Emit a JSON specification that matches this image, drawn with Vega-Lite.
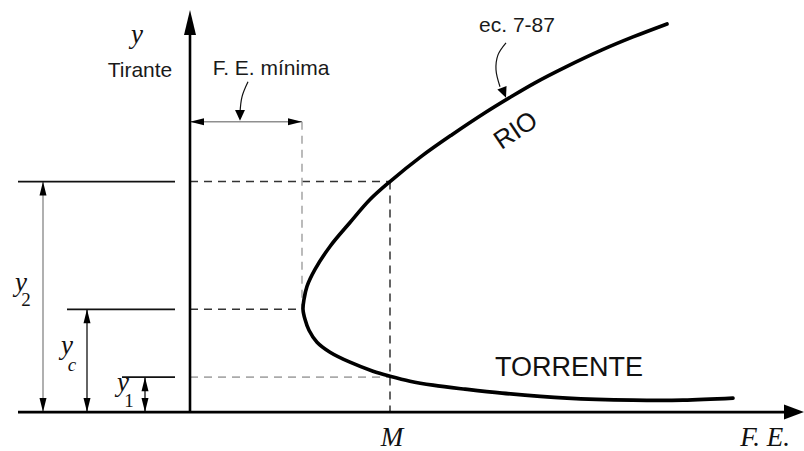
{
  "$schema": "https://vega.github.io/schema/vega-lite/v6.json",
  "width": 804,
  "height": 451,
  "padding": 0,
  "autosize": {"type": "fit", "contains": "padding"},
  "background": "white",
  "config": {"view": {"stroke": null}},
  "datasets": {
    "curva": [
      {"x": 477, "y": 389, "i": 1}, {"x": 443, "y": 376, "i": 2}, {"x": 412, "y": 363, "i": 3},
      {"x": 376, "y": 346, "i": 4}, {"x": 345, "y": 330, "i": 5}, {"x": 321, "y": 316, "i": 6},
      {"x": 295, "y": 300, "i": 7}, {"x": 262, "y": 278, "i": 8}, {"x": 231, "y": 256, "i": 9},
      {"x": 200, "y": 231, "i": 10}, {"x": 180, "y": 213, "i": 11}, {"x": 160, "y": 190, "i": 12},
      {"x": 140, "y": 166, "i": 13}, {"x": 125, "y": 143, "i": 14}, {"x": 117, "y": 126, "i": 15},
      {"x": 114, "y": 113, "i": 16}, {"x": 113, "y": 103, "i": 17}, {"x": 115, "y": 93, "i": 18},
      {"x": 119, "y": 82, "i": 19}, {"x": 127, "y": 70, "i": 20}, {"x": 140, "y": 60, "i": 21},
      {"x": 160, "y": 50, "i": 22}, {"x": 183, "y": 41, "i": 23}, {"x": 200, "y": 36, "i": 24},
      {"x": 220, "y": 31, "i": 25}, {"x": 243, "y": 27, "i": 26}, {"x": 275, "y": 23, "i": 27},
      {"x": 312, "y": 19, "i": 28}, {"x": 377, "y": 14, "i": 29}, {"x": 443, "y": 12, "i": 30},
      {"x": 493, "y": 12, "i": 31}, {"x": 543, "y": 14, "i": 32}
    ],
    "trazos": [
      {"x": 0, "y": 0, "x2": 0, "y2": 392, "tipo": "eje"},
      {"x": -172, "y": 0, "x2": 596, "y2": 0, "tipo": "eje"},
      {"x": -172, "y": 231, "x2": -15, "y2": 231, "tipo": "nivel"},
      {"x": -123, "y": 103, "x2": -15, "y2": 103, "tipo": "nivel"},
      {"x": -68, "y": 35, "x2": -15, "y2": 35, "tipo": "nivel"},
      {"x": -103, "y": 0, "x2": -103, "y2": 103, "tipo": "cota"},
      {"x": -45, "y": 0, "x2": -45, "y2": 35, "tipo": "cota"},
      {"x": -147, "y": 0, "x2": -147, "y2": 231, "tipo": "cota_gris"},
      {"x": 0, "y": 291, "x2": 112, "y2": 291, "tipo": "cota_gris"},
      {"x": 0, "y": 231, "x2": 200, "y2": 231, "tipo": "proyeccion"},
      {"x": 200, "y": 231, "x2": 200, "y2": 0, "tipo": "proyeccion"},
      {"x": 0, "y": 103, "x2": 112, "y2": 103, "tipo": "proyeccion"},
      {"x": 0, "y": 35, "x2": 200, "y2": 35, "tipo": "proyeccion_gris"},
      {"x": 112, "y": 291, "x2": 112, "y2": 103, "tipo": "proyeccion_gris"}
    ],
    "flechas": [
      {"x": 0, "y": 403, "dir": "arriba", "tipo": "eje"},
      {"x": 614, "y": 0, "dir": "derecha", "tipo": "eje"},
      {"x": -147, "y": 231, "dir": "arriba", "tipo": "cota"},
      {"x": -147, "y": 0, "dir": "abajo", "tipo": "cota"},
      {"x": -103, "y": 103, "dir": "arriba", "tipo": "cota"},
      {"x": -103, "y": 0, "dir": "abajo", "tipo": "cota"},
      {"x": -45, "y": 35, "dir": "arriba", "tipo": "cota"},
      {"x": -45, "y": 0, "dir": "abajo", "tipo": "cota"},
      {"x": 0, "y": 291, "dir": "izquierda", "tipo": "cota"},
      {"x": 112, "y": 291, "dir": "derecha", "tipo": "cota"},
      {"x": 50, "y": 292, "dir": "abajo", "tipo": "llamada"},
      {"x": 316, "y": 315, "dir": "abajo_der", "tipo": "llamada"}
    ],
    "llamadas": [
      {"x": 58, "y": 331, "id": "minima", "i": 1},
      {"x": 52, "y": 316, "id": "minima", "i": 2},
      {"x": 50, "y": 300, "id": "minima", "i": 3},
      {"x": 316, "y": 370, "id": "ecuacion", "i": 1},
      {"x": 308, "y": 358, "id": "ecuacion", "i": 2},
      {"x": 306, "y": 343, "id": "ecuacion", "i": 3},
      {"x": 310, "y": 326, "id": "ecuacion", "i": 4}
    ],
    "rotulos": [
      {"x": -50, "y": 336, "texto": "Tirante", "tipo": "etiqueta"},
      {"x": 81, "y": 338, "texto": "F. E. mínima", "tipo": "etiqueta"},
      {"x": 327, "y": 381, "texto": "ec. 7-87", "tipo": "etiqueta"},
      {"x": 379, "y": 36, "texto": "TORRENTE", "tipo": "regimen"},
      {"x": 326, "y": 282, "texto": "RIO", "tipo": "regimen_inclinado"},
      {"x": -53, "y": 370, "texto": "y", "tipo": "variable"},
      {"x": 202, "y": -34, "texto": "M", "tipo": "variable"},
      {"x": 575, "y": -34, "texto": "F. E.", "tipo": "variable"},
      {"x": -169, "y": 121, "texto": "y", "tipo": "variable"},
      {"x": -123, "y": 58, "texto": "y", "tipo": "variable"},
      {"x": -67, "y": 21, "texto": "y", "tipo": "variable"},
      {"x": -164, "y": 106, "texto": "2", "tipo": "subindice"},
      {"x": -61, "y": 5, "texto": "1", "tipo": "subindice"},
      {"x": -118, "y": 41, "texto": "c", "tipo": "subindice_var"}
    ]
  },
  "encoding": {
    "x": {"field": "x", "type": "quantitative", "scale": {"domain": [-190, 614], "nice": false, "zero": false}, "axis": null},
    "y": {"field": "y", "type": "quantitative", "scale": {"domain": [-38, 413], "nice": false, "zero": false}, "axis": null}
  },
  "layer": [
    {
      "data": {"name": "trazos"},
      "transform": [{"filter": "datum.tipo == 'proyeccion'"}],
      "mark": {"type": "rule", "color": "#333333", "strokeWidth": 1.5, "strokeDash": [8, 6]},
      "encoding": {"x2": {"field": "x2"}, "y2": {"field": "y2"}}
    },
    {
      "data": {"name": "trazos"},
      "transform": [{"filter": "datum.tipo == 'proyeccion_gris'"}],
      "mark": {"type": "rule", "color": "#aaaaaa", "strokeWidth": 1.6, "strokeDash": [8, 6]},
      "encoding": {"x2": {"field": "x2"}, "y2": {"field": "y2"}}
    },
    {
      "data": {"name": "trazos"},
      "transform": [{"filter": "datum.tipo == 'cota_gris'"}],
      "mark": {"type": "rule", "color": "#8f8f8f", "strokeWidth": 1.4},
      "encoding": {"x2": {"field": "x2"}, "y2": {"field": "y2"}}
    },
    {
      "data": {"name": "trazos"},
      "transform": [{"filter": "datum.tipo == 'cota'"}],
      "mark": {"type": "rule", "color": "#111111", "strokeWidth": 1.3},
      "encoding": {"x2": {"field": "x2"}, "y2": {"field": "y2"}}
    },
    {
      "data": {"name": "trazos"},
      "transform": [{"filter": "datum.tipo == 'nivel'"}],
      "mark": {"type": "rule", "color": "#111111", "strokeWidth": 1.7},
      "encoding": {"x2": {"field": "x2"}, "y2": {"field": "y2"}}
    },
    {
      "data": {"name": "trazos"},
      "transform": [{"filter": "datum.tipo == 'eje'"}],
      "mark": {"type": "rule", "color": "#000000", "strokeWidth": 2.6},
      "encoding": {"x2": {"field": "x2"}, "y2": {"field": "y2"}}
    },
    {
      "data": {"name": "curva"},
      "mark": {"type": "line", "color": "#000000", "strokeWidth": 3.6, "interpolate": "catmull-rom", "strokeCap": "round"},
      "encoding": {"order": {"field": "i", "type": "quantitative"}}
    },
    {
      "data": {"name": "llamadas"},
      "mark": {"type": "line", "color": "#111111", "strokeWidth": 1.2, "interpolate": "catmull-rom"},
      "encoding": {"detail": {"field": "id"}, "order": {"field": "i", "type": "quantitative"}}
    },
    {
      "data": {"name": "flechas"},
      "transform": [{"filter": "datum.tipo == 'eje' && datum.dir == 'arriba'"}],
      "mark": {"type": "point", "filled": true, "color": "#000000", "opacity": 1, "shape": "M0,0L0.48,2L-0.48,2Z", "size": 625}
    },
    {
      "data": {"name": "flechas"},
      "transform": [{"filter": "datum.tipo == 'eje' && datum.dir == 'derecha'"}],
      "mark": {"type": "point", "filled": true, "color": "#000000", "opacity": 1, "shape": "M0,0L-2,0.75L-2,-0.75Z", "size": 400}
    },
    {
      "data": {"name": "flechas"},
      "transform": [{"filter": "datum.tipo == 'cota' && datum.dir == 'arriba'"}],
      "mark": {"type": "point", "filled": true, "color": "#000000", "opacity": 1, "shape": "M0,0L0.5,2L-0.5,2Z", "size": 196}
    },
    {
      "data": {"name": "flechas"},
      "transform": [{"filter": "datum.tipo == 'cota' && datum.dir == 'abajo'"}],
      "mark": {"type": "point", "filled": true, "color": "#000000", "opacity": 1, "shape": "M0,0L0.5,-2L-0.5,-2Z", "size": 196}
    },
    {
      "data": {"name": "flechas"},
      "transform": [{"filter": "datum.tipo == 'cota' && datum.dir == 'izquierda'"}],
      "mark": {"type": "point", "filled": true, "color": "#000000", "opacity": 1, "shape": "M0,0L2,0.5L2,-0.5Z", "size": 196}
    },
    {
      "data": {"name": "flechas"},
      "transform": [{"filter": "datum.tipo == 'cota' && datum.dir == 'derecha'"}],
      "mark": {"type": "point", "filled": true, "color": "#000000", "opacity": 1, "shape": "M0,0L-2,0.5L-2,-0.5Z", "size": 196}
    },
    {
      "data": {"name": "flechas"},
      "transform": [{"filter": "datum.tipo == 'llamada' && datum.dir == 'abajo'"}],
      "mark": {"type": "point", "filled": true, "color": "#000000", "opacity": 1, "shape": "M0,0L0.55,-1.2L-0.55,-1.2Z", "size": 324}
    },
    {
      "data": {"name": "flechas"},
      "transform": [{"filter": "datum.tipo == 'llamada' && datum.dir == 'abajo_der'"}],
      "mark": {"type": "point", "filled": true, "color": "#000000", "opacity": 1, "shape": "M0,0L0.55,-1.2L-0.55,-1.2Z", "size": 324, "angle": -22}
    },
    {
      "data": {"name": "rotulos"},
      "transform": [{"filter": "datum.tipo == 'etiqueta'"}],
      "mark": {"type": "text", "font": "Liberation Sans", "fontSize": 21, "color": "#1a1a1a", "align": "center", "baseline": "alphabetic"},
      "encoding": {"text": {"field": "texto"}}
    },
    {
      "data": {"name": "rotulos"},
      "transform": [{"filter": "datum.tipo == 'regimen'"}],
      "mark": {"type": "text", "font": "Liberation Sans", "fontSize": 27, "color": "#111111", "align": "center", "baseline": "alphabetic"},
      "encoding": {"text": {"field": "texto"}}
    },
    {
      "data": {"name": "rotulos"},
      "transform": [{"filter": "datum.tipo == 'regimen_inclinado'"}],
      "mark": {"type": "text", "font": "Liberation Sans", "fontSize": 26, "color": "#111111", "align": "center", "baseline": "middle", "angle": -34},
      "encoding": {"text": {"field": "texto"}}
    },
    {
      "data": {"name": "rotulos"},
      "transform": [{"filter": "datum.tipo == 'variable'"}],
      "mark": {"type": "text", "font": "Liberation Serif", "fontStyle": "italic", "fontSize": 27, "color": "#111111", "align": "center", "baseline": "alphabetic"},
      "encoding": {"text": {"field": "texto"}}
    },
    {
      "data": {"name": "rotulos"},
      "transform": [{"filter": "datum.tipo == 'subindice'"}],
      "mark": {"type": "text", "font": "Liberation Serif", "fontSize": 19, "color": "#111111", "align": "center", "baseline": "alphabetic"},
      "encoding": {"text": {"field": "texto"}}
    },
    {
      "data": {"name": "rotulos"},
      "transform": [{"filter": "datum.tipo == 'subindice_var'"}],
      "mark": {"type": "text", "font": "Liberation Serif", "fontStyle": "italic", "fontSize": 19, "color": "#111111", "align": "center", "baseline": "alphabetic"},
      "encoding": {"text": {"field": "texto"}}
    }
  ]
}
